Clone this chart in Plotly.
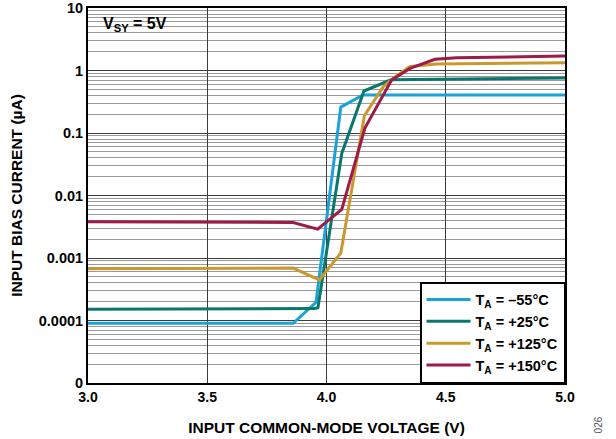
import plotly.graph_objects as go

# ---- data ----
x_m55 = [3.0, 3.86, 3.956, 4.06, 4.153, 5.0]
y_m55 = [9.0e-5, 9.0e-5, 1.95e-4, 0.26, 0.405, 0.405]

x_p25 = [3.0, 3.95, 3.964, 4.064, 4.157, 4.27, 5.0]
y_p25 = [1.52e-4, 1.55e-4, 1.6e-4, 0.047, 0.47, 0.71, 0.76]

x_p125 = [3.0, 3.86, 3.97, 4.06, 4.159, 4.238, 4.28, 4.35, 4.462, 5.0]
y_p125 = [6.7e-4, 6.9e-4, 4.45e-4, 1.2e-3, 0.19, 0.55, 0.75, 1.16, 1.27, 1.33]

x_p150 = [3.0, 3.86, 3.963, 4.064, 4.161, 4.238, 4.273, 4.35, 4.455, 4.546, 5.0]
y_p150 = [3.8e-3, 3.7e-3, 2.9e-3, 6.0e-3, 0.12, 0.405, 0.705, 1.08, 1.51, 1.6, 1.7]

series_names = ["T<sub>A</sub> = \u201355°C", "T<sub>A</sub> = +25°C",
                "T<sub>A</sub> = +125°C", "T<sub>A</sub> = +150°C"]
series_colors = ["#1aa3d8", "#0a776c", "#c9992f", "#9e1a48"]

x_ticks = [3.0, 3.5, 4.0, 4.5, 5.0]
x_ticklabels = ["3.0", "3.5", "4.0", "4.5", "5.0"]
y_ticks = [10, 1, 0.1, 0.01, 0.001, 0.0001, 0.00001]
y_ticklabels = ["10", "1", "0.1", "0.01", "0.001", "0.0001", "0"]

FONT = "Liberation Sans, Arial, sans-serif"

fig = go.Figure()
for xs, ys, name, col in zip([x_m55, x_p25, x_p125, x_p150],
                             [y_m55, y_p25, y_p125, y_p150],
                             series_names, series_colors):
    fig.add_trace(go.Scatter(x=xs, y=ys, mode="lines", name=name,
                             line=dict(color=col, width=3)))

fig.update_layout(
    width=616, height=439,
    margin=dict(l=88, r=51, t=8, b=56),
    paper_bgcolor="white", plot_bgcolor="white",
    font=dict(family=FONT, color="black"),
    showlegend=True,
    legend=dict(
        x=1, y=0, xanchor="right", yanchor="bottom",
        bgcolor="white", bordercolor="black", borderwidth=1.5,
        font=dict(family=FONT, size=14.5, color="black", weight="bold"),
        tracegroupgap=0, itemwidth=44,
    ),
)

fig.update_xaxes(
    range=[3.0, 5.0], tickvals=x_ticks, ticktext=x_ticklabels,
    showgrid=True, gridcolor="#3c3c3c", gridwidth=1,
    showline=True, linecolor="black", linewidth=2, mirror=True,
    ticks="", zeroline=False, automargin=False,
    tickfont=dict(family=FONT, size=14, color="black", weight="bold"),
    title=dict(text="INPUT COMMON-MODE VOLTAGE (V)",
               font=dict(family=FONT, size=15.5, color="black", weight="bold"),
               standoff=18),
)

fig.update_yaxes(
    type="log", range=[-5, 1], tickvals=y_ticks, ticktext=y_ticklabels,
    showgrid=True, gridcolor="#3c3c3c", gridwidth=1,
    minor=dict(showgrid=True, gridcolor="#9a9a9a", gridwidth=1, dtick="D1"),
    showline=True, linecolor="black", linewidth=2, mirror=True,
    ticks="", zeroline=False, automargin=False,
    tickfont=dict(family=FONT, size=14.5, color="black", weight="bold"),
    title=dict(text="INPUT BIAS CURRENT (µA)",
               font=dict(family=FONT, size=15.5, color="black", weight="bold"),
               standoff=12),
)

# white patch behind the supply-voltage label
fig.add_shape(type="rect", xref="paper", yref="paper",
              x0=0, x1=0.182, y0=0.928, y1=1,
              fillcolor="white", line=dict(width=0), layer="between")

fig.add_annotation(
    xref="paper", yref="paper", x=0.027, y=0.955, xanchor="left", yanchor="middle",
    text="V<sub>SY</sub> = 5V", showarrow=False,
    font=dict(family=FONT, size=16, color="black", weight="bold"),
)

fig.add_annotation(
    xref="paper", yref="paper", x=1.085, y=-0.085, xanchor="right", yanchor="top",
    text="026", showarrow=False, textangle=-90,
    font=dict(family=FONT, size=10, color="#555555"),
)

fig.write_html("out.html", config={"displayModeBar": False},
               post_script="document.body.style.margin='0';")
